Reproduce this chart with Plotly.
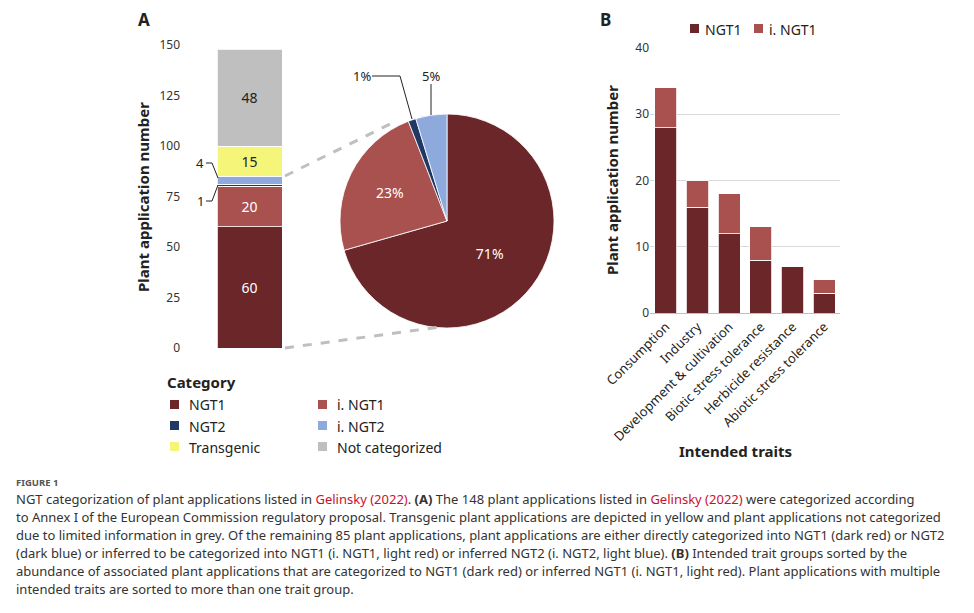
import plotly.graph_objects as go

W, H = 974, 613
OFF = 8  # page body margin
def px(x): return (x - OFF) / W
def py(y): return 1 - (y - OFF) / H

cats = ["NGT1", "i. NGT1", "NGT2", "i. NGT2", "Transgenic", "Not categorized"]
counts = [60, 20, 1, 4, 15, 48]
colors = ["#6B2629", "#A8514F", "#1F3864", "#8EA9DB", "#F5F57A", "#BFBFBF"]
bar_text = ["60", "20", "", "", "15", "48"]
bar_text_col = ["white", "white", "white", "white", "#222", "#222"]

pie_labels = ["NGT1", "i. NGT1", "NGT2", "i. NGT2"]
pie_vals = [60, 20, 1, 4]
pie_text = ["71%", "23%", "", ""]
pie_small = ["1%", "5%"]

traits = ["Consumption", "Industry", "Development & cultivation", "Biotic stress tolerance",
          "Herbicide resistance", "Abiotic stress tolerance"]
ngt1 = [28, 16, 12, 8, 7, 3]
ingt1 = [6, 4, 6, 5, 0, 2]

FONT = "Noto Sans"
fig = go.Figure()

for c, v, col, t, tc in zip(cats, counts, colors, bar_text, bar_text_col):
    fig.add_trace(go.Bar(x=["A"], y=[v], name=c, marker=dict(color=col, line=dict(color="white", width=0.8)),
                         text=[t], textposition="inside", insidetextanchor="middle",
                         textfont=dict(color=tc, size=14), width=0.67, showlegend=False,
                         xaxis="x", yaxis="y"))

fig.add_trace(go.Pie(labels=pie_labels, values=pie_vals, sort=False, direction="clockwise", rotation=0,
                     marker=dict(colors=colors[:4], line=dict(color="white", width=0.8)),
                     text=pie_text, textinfo="text", textposition="inside",
                     textfont=dict(size=14, color="white"),
                     domain=dict(x=[px(340), px(554)], y=[py(328), py(114)]), showlegend=False,
                     automargin=False))

fig.add_trace(go.Bar(x=traits, y=ngt1, name="NGT1", marker=dict(color=colors[0], line=dict(color="white", width=0.8)),
                     xaxis="x2", yaxis="y2", showlegend=False, width=0.7))
fig.add_trace(go.Bar(x=traits, y=ingt1, name="i. NGT1", marker=dict(color=colors[1], line=dict(color="white", width=0.8)),
                     xaxis="x2", yaxis="y2", showlegend=False, width=0.7))

ann = []
shapes = []
def A(x, y, t, size=13, color="#222", xa="left", ya="middle", **kw):
    ann.append(dict(x=px(x), y=py(y), xref="paper", yref="paper", text=t, showarrow=False,
                    font=dict(size=size, color=color, family=FONT), xanchor=xa, yanchor=ya, **kw))

A(136, 20, "<b>A</b>", 17)
A(598, 20, "<b>B</b>", 17)
A(143, 197, "<b>Plant application number</b>", 15, xa="center", textangle=-90)
A(612, 180, "<b>Plant application number</b>", 15, xa="center", textangle=-90)
A(735, 451, "<b>Intended traits</b>", 15, xa="center")
A(200, 163, "4", 13, xa="center")
A(200, 201, "1", 13, xa="center")
A(362, 76, pie_small[0], 13, xa="center")
A(431, 76, pie_small[1], 13, xa="center")
L = lambda x0, y0, x1, y1, col="#222", w=1, dash="solid": dict(type="line", xref="paper", yref="paper",
        x0=px(x0), y0=py(y0), x1=px(x1), y1=py(y1), line=dict(color=col, width=w, dash=dash))
shapes += [L(206, 163, 212, 163), L(212, 163, 218, 178), L(206, 201, 212, 201), L(212, 201, 218, 185),
           L(372, 76, 400, 76), L(400, 76, 412, 119), L(431, 84, 431, 115),
           L(285, 176, 390, 124, "#BFBFBF", 3, "dash"), L(285, 348, 440, 327, "#BFBFBF", 3, "dash")]

# legend A
A(165, 382, "<b>Category</b>", 15)
leg = [(170, 405), (318, 405), (170, 426), (318, 426), (170, 447), (318, 447)]
for (x, y), c, col in zip(leg, cats, colors):
    shapes.append(dict(type="rect", xref="paper", yref="paper", x0=px(x), x1=px(x + 9), y0=py(y - 5), y1=py(y + 4), fillcolor=col, line=dict(width=0)))
    A(x + 17, y, c, 14)
# legend B
for x, c, col in [(690, "NGT1", colors[0]), (754, "i. NGT1", colors[1])]:
    shapes.append(dict(type="rect", xref="paper", yref="paper", x0=px(x), x1=px(x + 9), y0=py(24), y1=py(33), fillcolor=col, line=dict(width=0)))
    A(x + 13, 29, c, 14)

# caption
A(14, 482, "<b>FIGURE 1</b>", 9.5, color="#555")
R = '<span style="color:#C8102E">Gelinsky (2022)</span>'
lines = [
    f"NGT categorization of plant applications listed in {R}. <b>(A)</b> The 148 plant applications listed in {R} were categorized according",
    "to Annex I of the European Commission regulatory proposal. Transgenic plant applications are depicted in yellow and plant applications not categorized",
    "due to limited information in grey. Of the remaining 85 plant applications, plant applications are either directly categorized into NGT1 (dark red) or NGT2",
    "(dark blue) or inferred to be categorized into NGT1 (i. NGT1, light red) or inferred NGT2 (i. NGT2, light blue). <b>(B)</b> Intended trait groups sorted by the",
    "abundance of associated plant applications that are categorized to NGT1 (dark red) or inferred NGT1 (i. NGT1, light red). Plant applications with multiple",
    "intended traits are sorted to more than one trait group.",
]
for i, l in enumerate(lines):
    A(14, 499 + i * 18, l, 13, color="#333")

fig.update_layout(
    width=W, height=H, margin=dict(l=0, r=0, t=0, b=0, autoexpand=False), barmode="stack", bargap=0.3,
    paper_bgcolor="white", plot_bgcolor="white", font=dict(family=FONT, color="#222"),
    annotations=ann, shapes=shapes,
    xaxis=dict(domain=[px(201), px(298)], range=[-0.5, 0.5], showticklabels=False, showline=False, showgrid=False, zeroline=False, automargin=False),
    yaxis=dict(domain=[py(348), py(45)], range=[0, 150], tickvals=[0, 25, 50, 75, 100, 125, 150], automargin=False,
               showgrid=False, zeroline=False, showline=False, tickfont=dict(size=12, color="#333"), ticklen=0, ticks="",
               ticklabelstandoff=20, anchor="x"),
    xaxis2=dict(domain=[px(650), px(840)], anchor="y2", tickangle=-45, tickfont=dict(size=13, color="#222"), automargin=False,
                showline=True, linecolor="#BFBFBF", ticks="", showgrid=False),
    yaxis2=dict(domain=[py(313), py(48)], range=[0, 40], tickvals=[0, 10, 20, 30, 40], anchor="x2", automargin=False,
                showgrid=True, gridcolor="#D9D9D9", zeroline=False, tickfont=dict(size=12, color="#333"), ticks=""),
)
fig.write_html("out.html")
